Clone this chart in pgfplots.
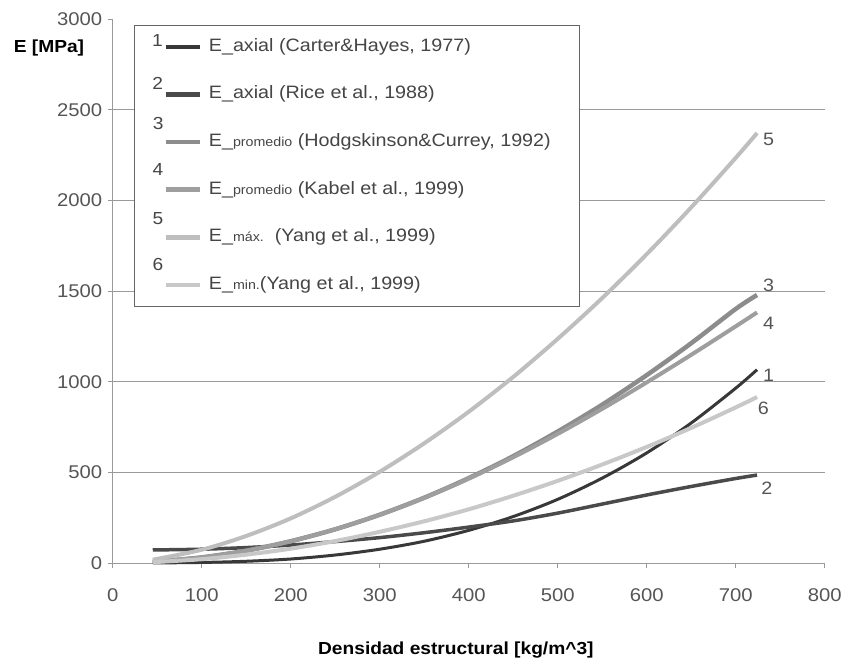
\documentclass[border=0pt]{standalone}
\usepackage{pgfplots}
\pgfplotsset{compat=1.18}
\usepackage{fontspec}
\setmainfont{Liberation Sans}[FakeStretch=1.1]

\definecolor{c1}{HTML}{383838}
\definecolor{c2}{HTML}{4A4A4A}
\definecolor{c3}{HTML}{8C8C8C}
\definecolor{c4}{HTML}{9E9E9E}
\definecolor{c5}{HTML}{BEBEBE}
\definecolor{c6}{HTML}{C8C8C8}
\definecolor{txt}{HTML}{454545}
\definecolor{tick}{HTML}{555555}
\definecolor{gridc}{HTML}{9A9A9A}

% legend sample: number above-left of the line
\pgfplotsset{
  numimg/.style 2 args={
    legend image code/.code={
      \draw[##1, line width=4.5bp] (0bp,0bp) -- (34bp,0bp);
      \node[overlay, inner sep=0pt, text=txt,
            font=\fontsize{17.5}{17.5}\selectfont] at (-15bp,#1) {#2};
    }
  }
}

\newcommand{\sm}[1]{{\fontsize{13}{14}\selectfont #1}}

\begin{document}
\begin{tikzpicture}
\useasboundingbox (0,0) rectangle (846bp,661bp);
\begin{axis}[
  at={(112.7bp,98bp)}, anchor=south west,
  scale only axis, width=712bp, height=544bp,
  xmin=0, xmax=800, ymin=0, ymax=3000,
  axis lines*=left,
  axis line style={gridc, line width=0.9bp},
  xtick={0,100,...,800},
  ytick={0,500,...,2500},
  extra y ticks={3000},
  extra y tick style={grid=none},
  ymajorgrids,
  grid style={gridc, line width=0.8bp},
  tick align=outside, major tick length=5bp,
  tick style={gridc, line width=0.8bp},
  ticklabel style={font=\fontsize{18.5}{18.5}\selectfont, text=tick},
  /pgf/number format/assume math mode=true,
  /pgf/number format/1000 sep={},
  xticklabel style={yshift=-17bp},
  yticklabel style={xshift=-2bp},
  xlabel={\bfseries Densidad estructural [kg/m\^{}3]},
  xlabel style={at={(axis description cs:0.482,-0.16)}, anchor=center,
                font=\fontsize{17.5}{19}\selectfont},
  ylabel={\bfseries E [MPa]},
  ylabel style={at={(axis description cs:-0.0895,0.9467)}, rotate=-90,
                anchor=center, font=\fontsize{17.5}{19}\selectfont},
  clip=false,
  legend cell align=left,
  legend style={
    at={(axis description cs:0.0299,0.989)}, anchor=north west,
    draw=black!60, line width=0.8bp, fill=white,
    inner xsep=29bp, inner ysep=13bp,
    row sep=30.6bp,
    font=\fontsize{18}{19}\selectfont, text=txt,
    nodes={inner sep=0pt, text height=13bp, text depth=4bp},
    /tikz/every odd column/.append style={column sep=7bp},
  },
]
\addplot[c1, line width=3bp, smooth, numimg={5bp}{1}] coordinates {
 (45,0.3) (100,3) (150,9.5) (200,22) (250,44) (300,76) (350,120) (400,180)
 (450,256) (500,351) (550,468) (600,607) (650,772) (700,964) (724,1066)};
\addlegendentry{E\_axial (Carter\&Hayes, 1977)}
\addplot[c2, line width=3.5bp, smooth, numimg={9bp}{2}] coordinates {
 (45,72) (100,76) (150,85) (200,99) (250,118) (300,140) (350,167) (400,198)
 (450,232) (500,275) (550,325) (600,375) (650,422) (700,466) (724,485)};
\addlegendentry{E\_axial (Rice et al., 1988)}
\addplot[c3, line width=4.5bp, smooth, numimg={17bp}{3}] coordinates {
 (45,6.5) (100,31) (150,68) (200,120) (250,186) (300,266) (350,360) (400,468)
 (450,589) (500,725) (550,873) (600,1036) (650,1212) (700,1401) (724,1478)};
\addlegendentry{E\_\sm{promedio} (Hodgskinson\&Currey, 1992)}
\addplot[c4, line width=4bp, smooth, numimg={19bp}{4}] coordinates {
 (45,6.5) (100,31) (150,68) (200,120) (250,186) (300,266) (350,359) (400,465)
 (450,583) (500,712) (550,850) (600,996) (650,1148) (700,1305) (724,1382)};
\addlegendentry{E\_\sm{promedio} (Kabel et al., 1999)}
\addplot[c5, line width=4bp, smooth, numimg={17bp}{5}] coordinates {
 (45,18) (100,73) (150,149) (200,246) (250,365) (300,503) (350,660) (400,834)
 (450,1026) (500,1236) (550,1461) (600,1703) (650,1961) (700,2234) (724,2371)};
\addlegendentry{E\_\sm{máx.}\ \ (Yang et al., 1999)}
\addplot[c6, line width=4bp, smooth, numimg={19bp}{6}] coordinates {
 (45,4.5) (100,21) (150,46) (200,79) (250,121) (300,172) (350,230) (400,296)
 (450,371) (500,453) (550,543) (600,640) (650,745) (700,858) (724,915)};
\addlegendentry{E\_\sm{min.}(Yang et al., 1999)}

% curve end labels
\begin{scope}[every node/.style={text=tick, font=\fontsize{18}{18}\selectfont}]
\node at (axis cs:737,2338) {5};
\node at (axis cs:737,1533) {3};
\node at (axis cs:737,1324) {4};
\node at (axis cs:737,1037) {1};
\node at (axis cs:731,855) {6};
\node at (axis cs:735,414) {2};
\end{scope}
\end{axis}
\end{tikzpicture}
\end{document}
